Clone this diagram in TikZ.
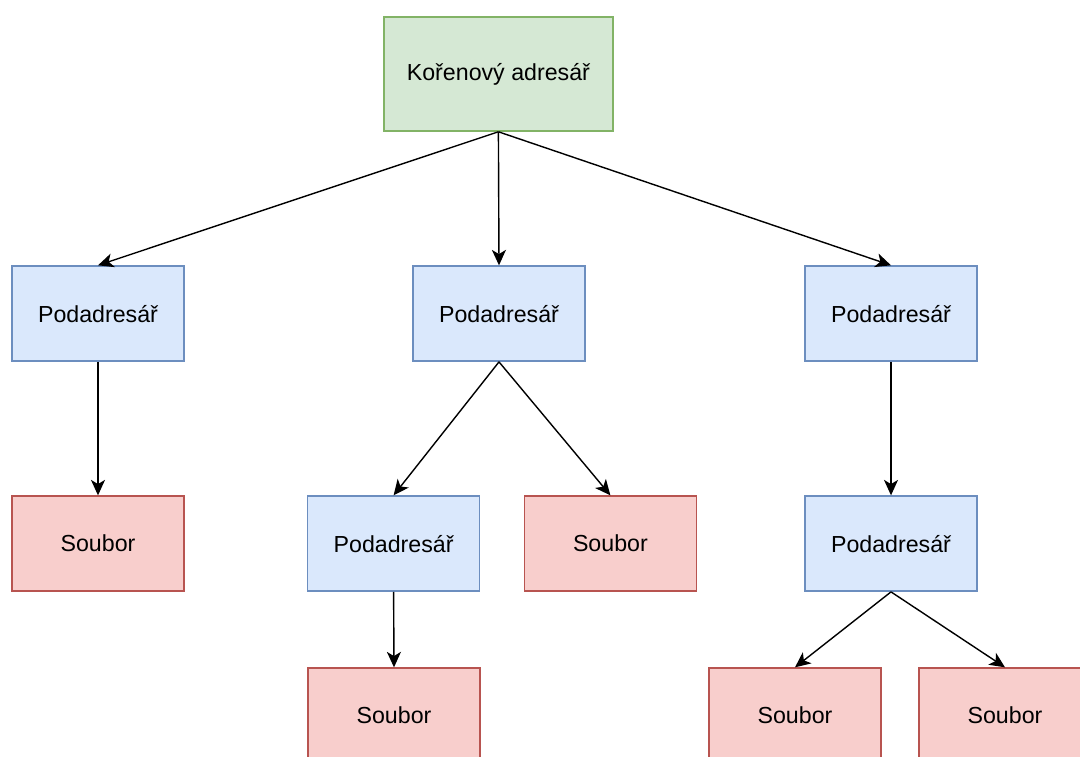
\documentclass[tikz,border=0pt]{standalone}
\usepackage{fontspec}
\setmainfont{Liberation Sans}
\usepackage{tikz}
\usetikzlibrary{arrows.meta}
\definecolor{rootfill}{HTML}{D5E8D4}
\definecolor{rootline}{HTML}{82B366}
\definecolor{dirfill}{HTML}{DAE8FC}
\definecolor{dirline}{HTML}{6C8EBF}
\definecolor{filefill}{HTML}{F8CECC}
\definecolor{fileline}{HTML}{B85450}
\tikzset{rootnode/.style={draw=rootline, fill=rootfill, line width=1.1pt, minimum width=5.725cm, minimum height=2.85cm, inner sep=0pt}}
\tikzset{dirnode/.style={draw=dirline, fill=dirfill, line width=1.1pt, minimum width=4.3cm, minimum height=2.375cm, inner sep=0pt}}
\tikzset{filenode/.style={draw=fileline, fill=filefill, line width=1.1pt, minimum width=4.3cm, minimum height=2.375cm, inner sep=0pt}}
\tikzset{link/.style = {-{Stealth[length=11pt, width=10pt, inset=3pt]}, line width=1pt}}

\begin{document}
\begin{tikzpicture}[font=\fontsize{16.5}{20}\selectfont]
    \useasboundingbox (0,0) rectangle (27,-18.9);
    \clip (0,0) rectangle (27,-18.9);

    \node[rootnode] (R) at (12.46, -1.85) {Kořenový adresář};

    \node[dirnode] (A) at (2.45, -7.84)   {Podadresář};
    \node[dirnode] (B) at (12.475, -7.84) {Podadresář};
    \node[dirnode] (C) at (22.275, -7.84) {Podadresář};

    \node[filenode] (A1) at (2.45, -13.59)  {Soubor};
    \node[dirnode]  (B1) at (9.84, -13.59)  {Podadresář};
    \node[filenode] (B2) at (15.26, -13.59) {Soubor};
    \node[dirnode]  (C1) at (22.275, -13.59) {Podadresář};

    \node[filenode] (B1a) at (9.85, -17.89)   {Soubor};
    \node[filenode] (C1a) at (19.875, -17.89) {Soubor};
    \node[filenode] (C1b) at (25.125, -17.89) {Soubor};

    \draw[link] (R.south) -- (A.north);
    \draw[link] (R.south) -- (B.north);
    \draw[link] (R.south) -- (C.north);

    \draw[link] (A.south) -- (A1.north);
    \draw[link] (B.south) -- (B1.north);
    \draw[link] (B.south) -- (B2.north);
    \draw[link] (C.south) -- (C1.north);

    \draw[link] (B1.south) -- (B1a.north);
    \draw[link] (C1.south) -- (C1a.north);
    \draw[link] (C1.south) -- (C1b.north);
\end{tikzpicture}
\end{document}
